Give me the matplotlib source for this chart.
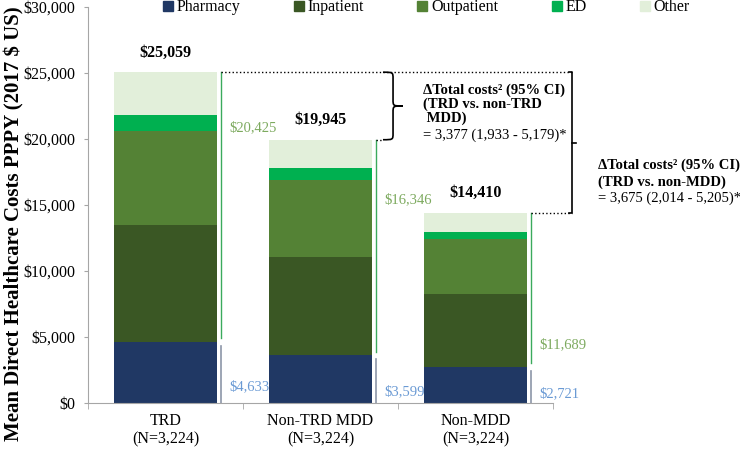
import numpy as np
import matplotlib.pyplot as plt
from matplotlib.path import Path
from matplotlib.patches import PathPatch
from matplotlib.lines import Line2D

plt.rcParams['font.family'] = ['Liberation Serif', 'DejaVu Serif']

# data
groups = ['TRD\n(N=3,224)', 'Non-TRD MDD\n(N=3,224)', 'Non-MDD\n(N=3,224)']
components = ['Pharmacy', 'Inpatient', 'Outpatient', 'ED', 'Other']
pharmacy = [4633, 3599, 2721]
inpatient = [8852, 7462, 5537]
outpatient = [7144, 5833, 4166]
ed = [1189, 909, 531]
other = [3241, 2142, 1455]
totals = [25059, 19945, 14410]
medical = [20425, 16346, 11689]
colors = ['#203864', '#3A5724', '#548235', '#00B050', '#E2EFDA']

fig = plt.figure(figsize=(7.4, 4.49), dpi=100)
ax = fig.add_axes([88 / 740, 1 - 403 / 449, (553 - 88) / 740, (403 - 7) / 449])

x = np.arange(len(groups))
width = 0.665
bottom = np.zeros(len(groups))
for vals, c, name in zip([pharmacy, inpatient, outpatient, ed, other], colors, components):
    ax.bar(x, vals, width, bottom=bottom, color=c, label=name, zorder=2)
    bottom += np.array(vals)

ax.set_xlim(-0.5, 2.5)
ax.set_ylim(0, 30000)
ax.set_yticks(np.arange(0, 30001, 5000))
ax.set_yticklabels(['$' + format(v, ',') for v in range(0, 30001, 5000)], fontsize=11.5)
ax.set_xticks(x)
ax.set_xticklabels(groups, fontsize=11.5)
ax.set_xticks([-0.5, 0.5, 1.5, 2.5], minor=True)
ax.tick_params(axis='x', which='major', length=0, pad=7)
ax.tick_params(axis='x', which='minor', length=4, color='#A6A6A6')
ax.tick_params(axis='y', length=3, color='#A6A6A6', pad=6)
for s in ['top', 'right']:
    ax.spines[s].set_visible(False)
for s in ['left', 'bottom']:
    ax.spines[s].set_color('#A6A6A6')

fig.text(0.019, 0.501, 'Mean Direct Healthcare Costs PPPY (2017 $ US)', rotation=90,
         ha='center', va='center', fontsize=15, fontweight='bold')

# totals above bars
for xi, t in zip(x, totals):
    ax.text(xi, t + 1480, '$' + format(t, ','), ha='center', va='center',
            fontsize=11.5, fontweight='bold')

# side lines and component labels
off = 0.36
pharm_label_y = [1200, 850, 680]
med_label_y = [20830, 15380, 4390]
for xi, p, t, m, py, my in zip(x, pharmacy, totals, medical, pharm_label_y, med_label_y):
    ax.plot([xi + off, xi + off], [0, p - 300], color='#8C96A8', lw=1.2, clip_on=False)
    ax.plot([xi + off, xi + off], [p + 300, t], color='#3BAA5C', lw=1.0, clip_on=False)
    ax.text(xi + 0.41, py, '$' + format(p, ','), color='#6A9AD4', fontsize=10.5,
            ha='left', va='center')
    ax.text(xi + 0.41, my, '$' + format(m, ','), color='#7DAA5F', fontsize=10.5,
            ha='left', va='center')

# dotted connectors
br_x = 2.623
ax.plot([0 + off, br_x], [totals[0], totals[0]], ls=':', color='black', lw=1, clip_on=False)
ax.plot([1 + off, 1.403], [totals[1], totals[1]], ls=':', color='black', lw=1, clip_on=False)
ax.plot([2 + off, br_x], [totals[2], totals[2]], ls=':', color='black', lw=1, clip_on=False)

# curly brace (TRD vs non-TRD)
xl, xm, xt = 1.403, 1.468, 1.532
yt, yb = totals[0], totals[1]
ym = (yt + yb) / 2
r = 500
verts = [(xl, yt), (xm, yt), (xm, yt), (xm, yt - r), (xm, ym + r),
         (xm, ym), (xm, ym), (xt, ym),
         (xm, ym), (xm, ym), (xm, ym - r), (xm, yb + r),
         (xm, yb), (xm, yb), (xl, yb)]
codes = [Path.MOVETO, Path.CURVE4, Path.CURVE4, Path.CURVE4, Path.LINETO,
         Path.CURVE4, Path.CURVE4, Path.CURVE4,
         Path.CURVE4, Path.CURVE4, Path.CURVE4, Path.LINETO,
         Path.CURVE4, Path.CURVE4, Path.CURVE4]
ax.add_patch(PathPatch(Path(verts, codes), fill=False, lw=1.2, color='black', clip_on=False))

# square bracket (TRD vs non-MDD)
ax.plot([br_x - 0.02, br_x, br_x, br_x - 0.02], [totals[0], totals[0], totals[2], totals[2]],
        color='black', lw=1.2, clip_on=False)
ym2 = (totals[0] + totals[2]) / 2
ax.plot([br_x, br_x + 0.025], [ym2, ym2], color='black', lw=1.2, clip_on=False)

# annotations
bold_lines1 = ['ΔTotal costs² (95% CI)', '(TRD vs. non-TRD', ' MDD)']
for s, yy in zip(bold_lines1, [23712, 22652, 21591]):
    ax.text(1.661, yy, s, fontsize=10.5, fontweight='bold', ha='left', va='center', clip_on=False)
ax.text(1.661, 20303, '= 3,377 (1,933 - 5,179)*', fontsize=10.5, ha='left', va='center')

bold_lines2 = ['ΔTotal costs² (95% CI)', '(TRD vs. non-MDD)']
for s, yy in zip(bold_lines2, [18030, 16740]):
    ax.text(2.79, yy, s, fontsize=10.5, fontweight='bold', ha='left', va='center')
ax.text(2.79, 15500, '= 3,675 (2,014 - 5,205)*', fontsize=10.5, ha='left', va='center')

# legend
handles = [Line2D([], [], marker='s', ls='', color=c, markersize=7) for c in colors]
fig.legend(handles, components, loc='center', bbox_to_anchor=(0.576, 0.984), ncol=5,
           frameon=False, fontsize=11.5, handlelength=0.7, handletextpad=0.2,
           columnspacing=3.3, borderaxespad=0, borderpad=0)

plt.savefig('out.png', dpi=100)
